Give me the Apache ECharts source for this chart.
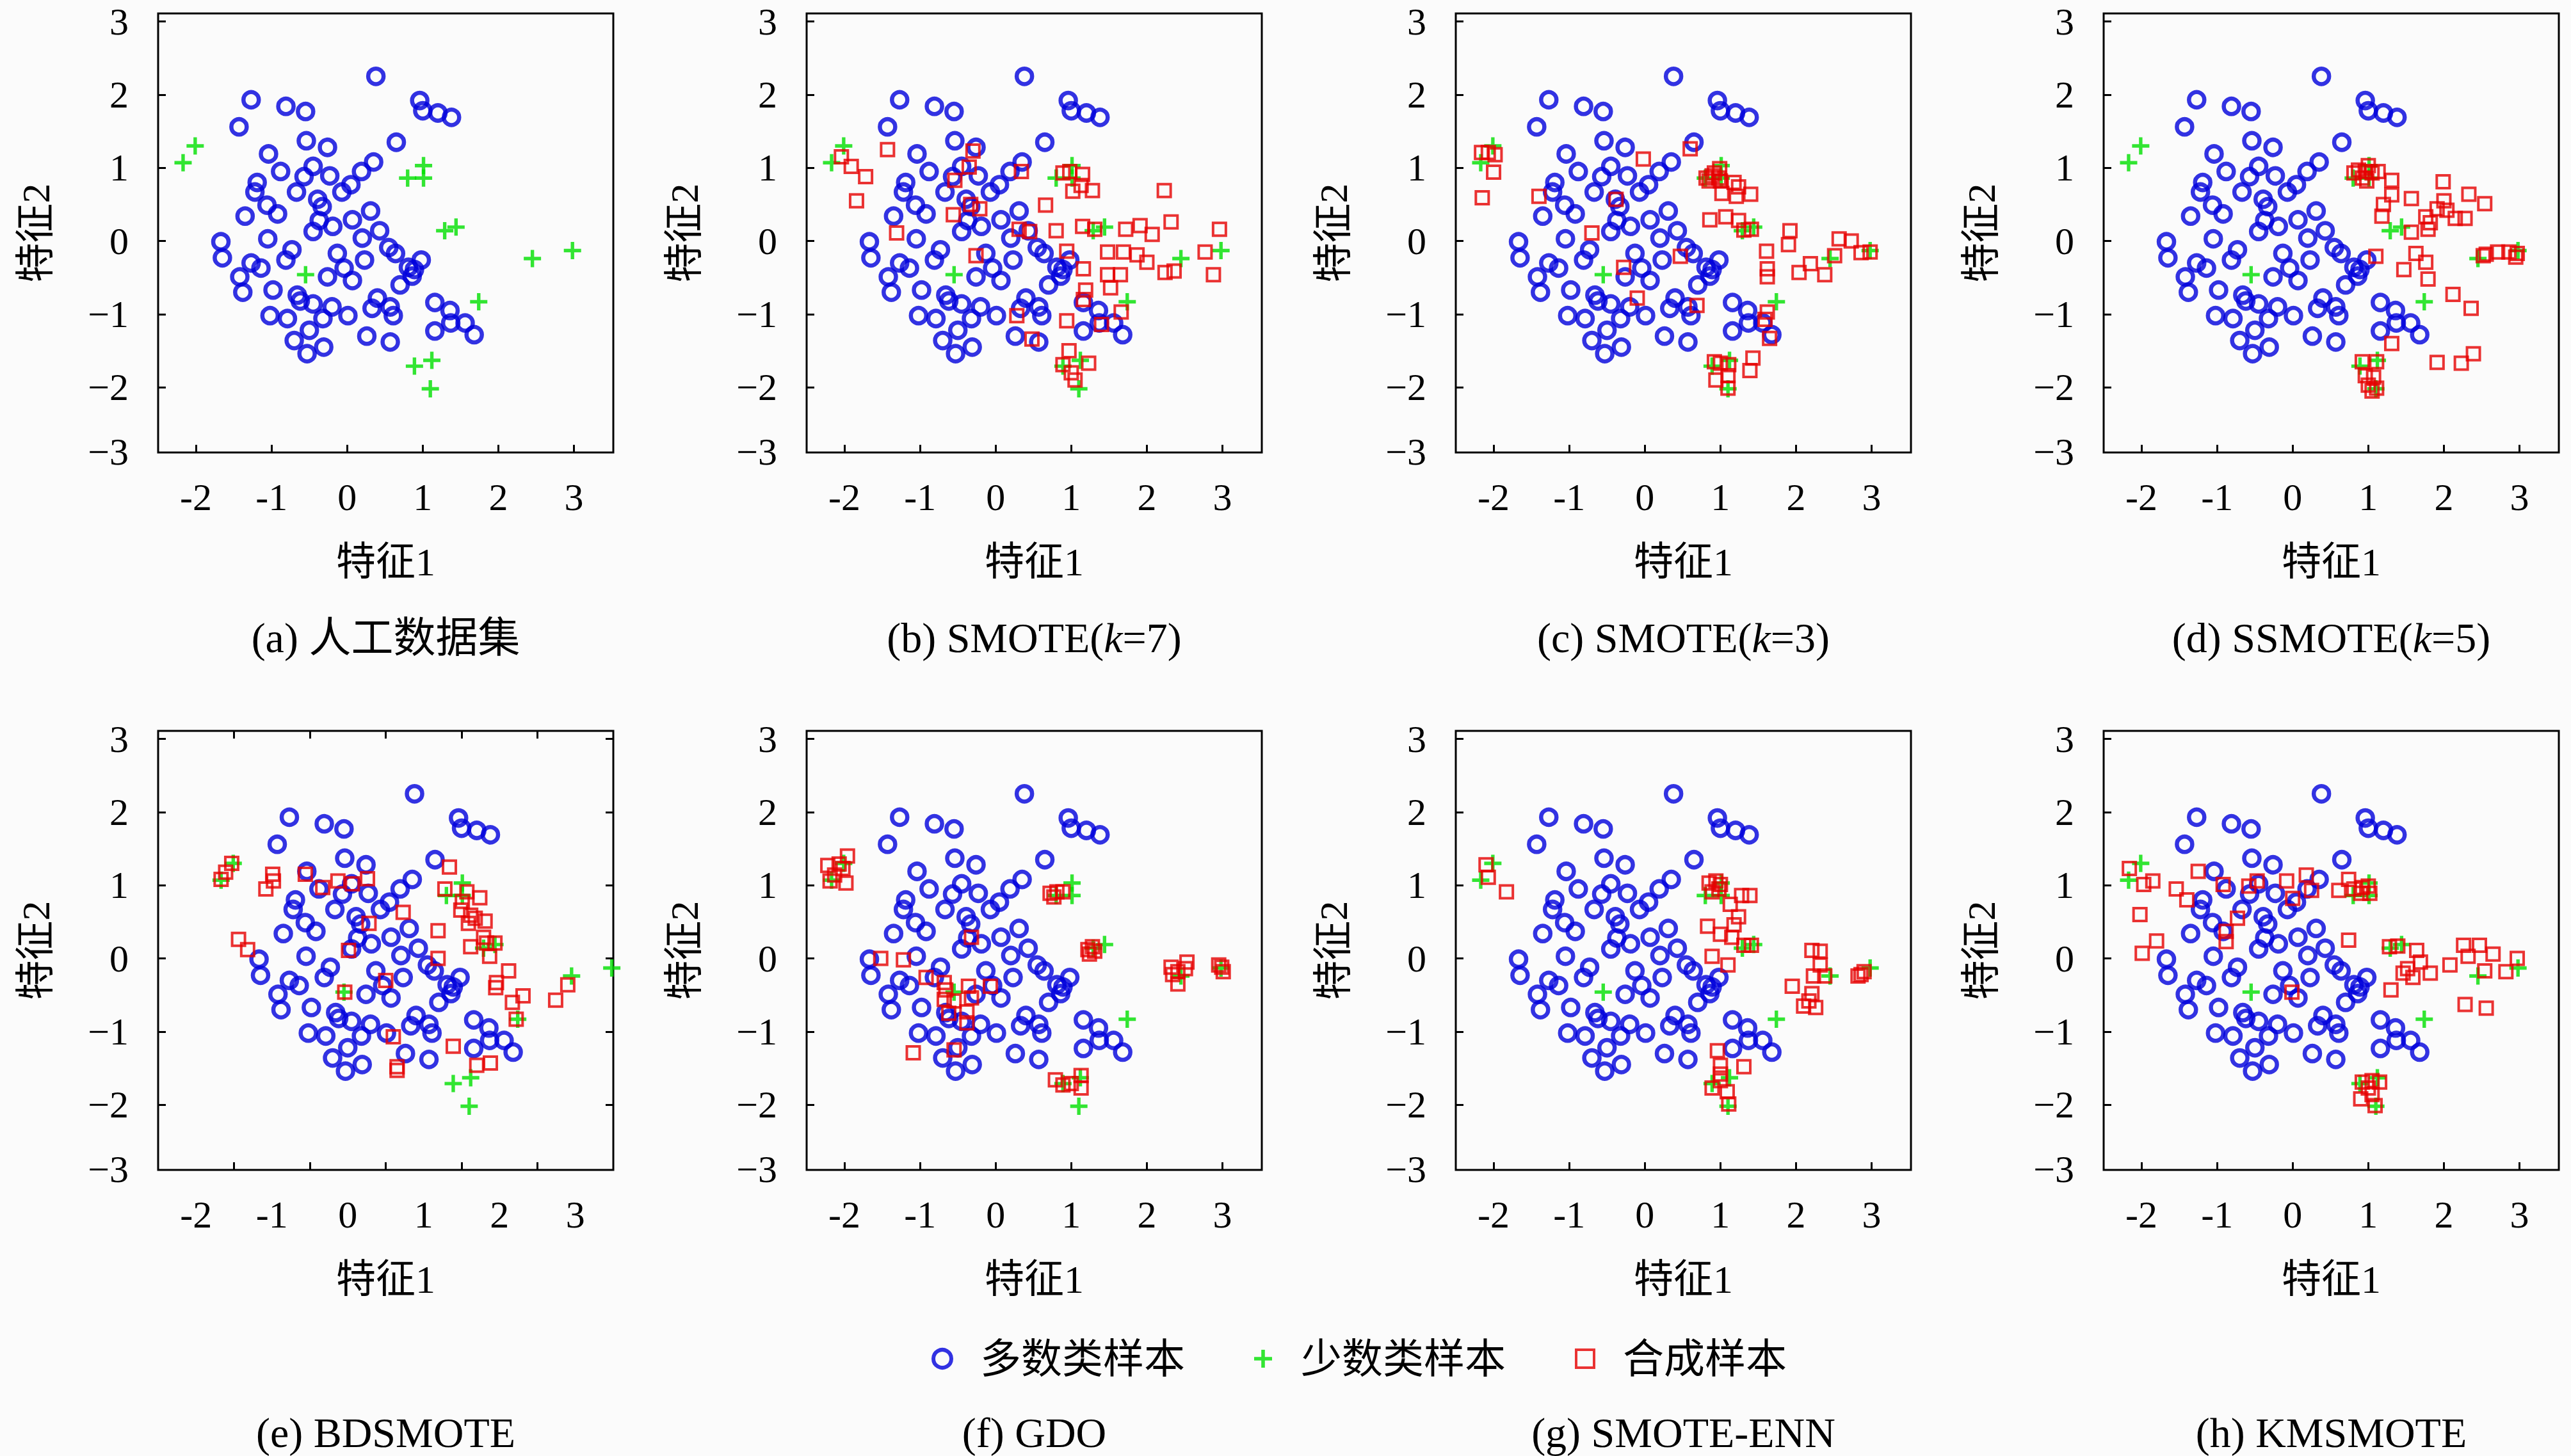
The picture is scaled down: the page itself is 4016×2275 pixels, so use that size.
<!DOCTYPE html>
<html>
<head>
<meta charset="utf-8">
<script src="https://cdn.jsdelivr.net/npm/echarts@6/dist/echarts.min.js"></script>
<style>
html,body{margin:0;padding:0;background:#fbfbfb;}
#chart{width:4016px;height:2275px;}
</style>
</head>
<body>
<div id="chart"></div>
<script>
// ---------------- data ----------------
const majority = [
[0.38,2.25],[-1.27,1.93],[-0.81,1.84],[-0.55,1.77],[-1.43,1.56],[0.96,1.92],[1.00,1.78],[1.20,1.75],[1.38,1.69],[-0.54,1.37],
[-0.26,1.28],[0.65,1.35],[-1.04,1.19],[-0.88,0.95],[-0.45,1.02],[-0.57,0.88],[-0.23,0.89],[0.19,0.95],[0.35,1.08],[-1.19,0.80],
[-1.22,0.67],[-0.67,0.67],[0.05,0.77],[-0.07,0.67],[-0.39,0.57],[-0.33,0.47],[-1.06,0.49],[-0.92,0.37],[-1.35,0.34],[0.31,0.41],
[0.07,0.29],[-0.37,0.28],[-0.19,0.20],[-0.45,0.13],[0.43,0.14],[0.20,0.04],[-1.05,0.03],[-1.67,-0.01],[-1.65,-0.23],[-0.73,-0.12],
[-0.81,-0.26],[-1.27,-0.30],[-1.14,-0.37],[-1.42,-0.49],[-1.38,-0.70],[-0.13,-0.17],[0.23,-0.26],[-0.04,-0.37],[-0.26,-0.49],[0.07,-0.54],
[0.55,-0.09],[0.64,-0.17],[0.98,-0.26],[0.81,-0.36],[0.89,-0.39],[0.86,-0.48],[0.70,-0.60],[-0.98,-0.67],[-0.66,-0.74],[-0.62,-0.82],
[-0.45,-0.86],[-0.20,-0.90],[0.40,-0.78],[0.33,-0.92],[0.57,-0.90],[0.61,-1.02],[-1.02,-1.02],[-0.79,-1.06],[-0.32,-1.06],[0.01,-1.02],
[-0.50,-1.22],[-0.70,-1.36],[-0.53,-1.54],[-0.31,-1.45],[0.26,-1.30],[0.57,-1.38],[1.16,-0.84],[1.36,-0.95],[1.37,-1.12],[1.56,-1.12],
[1.68,-1.28],[1.16,-1.23]
];
const minority = [
[-2.01,1.30],[-2.17,1.07],[1.01,1.03],[0.80,0.86],[1.01,0.86],[1.29,0.14],[1.44,0.19],[2.45,-0.24],[2.98,-0.13],[1.74,-0.83],
[-0.55,-0.46],[0.89,-1.71],[1.12,-1.63],[1.10,-2.02]
];
const synthB = [
[-1.43,1.25],[-2.04,1.15],[-1.91,1.02],[-1.72,0.88],[-1.84,0.55],[-0.30,1.23],[-0.35,1.01],[-0.54,0.83],[0.34,0.95],[0.89,0.93],
[0.98,0.95],[1.15,0.91],[1.13,0.76],[1.02,0.68],[1.28,0.69],[2.23,0.69],[0.66,0.49],[-0.33,0.50],[-0.21,0.44],[-0.56,0.36],
[-1.31,0.11],[0.31,0.16],[0.45,0.13],[0.80,0.14],[1.15,0.20],[1.31,0.16],[1.72,0.16],[1.91,0.21],[2.07,0.09],[2.32,0.26],
[2.96,0.16],[-0.26,-0.20],[0.94,-0.14],[1.48,-0.15],[1.69,-0.15],[1.87,-0.19],[2.00,-0.29],[2.77,-0.15],[1.16,-0.38],[1.48,-0.46],
[1.65,-0.46],[2.24,-0.43],[2.36,-0.41],[2.88,-0.46],[1.19,-0.67],[1.52,-0.64],[1.16,-0.80],[1.66,-0.97],[0.28,-1.02],[0.94,-1.09],
[1.40,-1.14],[0.48,-1.34],[0.97,-1.50],[0.89,-1.69],[1.23,-1.67],[1.00,-1.80],[1.05,-1.90]
];
const synthC = [
[-2.16,1.21],[-2.07,1.21],[-1.98,1.18],[-2.00,0.94],[-2.15,0.59],[-1.40,0.61],[-0.02,1.12],[0.60,1.26],[-0.38,0.57],[-0.70,0.11],
[0.81,0.86],[0.89,0.89],[0.99,0.99],[1.00,0.82],[1.18,0.80],[1.24,0.74],[1.02,0.65],[1.21,0.61],[1.40,0.64],[0.86,0.29],
[1.07,0.33],[1.24,0.28],[1.31,0.15],[1.41,0.16],[1.92,0.14],[1.90,-0.05],[1.61,-0.14],[2.57,0.03],[2.73,0.00],[2.51,-0.20],
[2.86,-0.16],[2.98,-0.15],[2.19,-0.31],[2.04,-0.43],[2.38,-0.46],[1.62,-0.38],[1.62,-0.49],[0.47,-0.21],[-0.28,-0.36],[-0.10,-0.78],
[0.69,-0.88],[1.62,-0.97],[1.59,-1.07],[1.65,-1.33],[0.92,-1.65],[1.00,-1.67],[1.11,-1.69],[0.94,-1.90],[1.10,-1.84],[1.10,-2.01],
[1.43,-1.60],[1.39,-1.77],[0.92,0.93],[0.98,0.86],[0.85,0.82]
];
const synthD = [
[0.87,0.97],[0.96,0.95],[1.05,0.93],[0.92,0.86],[0.98,0.82],[0.81,0.93],[1.00,1.03],[1.13,0.95],[1.31,0.83],[1.31,0.63],
[1.20,0.50],[1.18,0.34],[1.57,0.58],[1.99,0.81],[2.00,0.55],[2.33,0.64],[2.54,0.51],[1.91,0.44],[2.04,0.42],[2.15,0.31],
[2.28,0.31],[1.76,0.33],[1.82,0.25],[1.79,0.16],[1.57,0.12],[1.10,-0.21],[1.63,-0.17],[1.76,-0.29],[1.47,-0.39],[1.79,-0.52],
[2.52,-0.20],[2.56,-0.18],[2.71,-0.15],[2.86,-0.15],[2.97,-0.17],[2.95,-0.22],[2.12,-0.73],[2.36,-0.92],[1.31,-1.40],[2.39,-1.54],
[1.91,-1.66],[2.23,-1.67],[0.92,-1.65],[1.11,-1.65],[0.96,-1.84],[1.07,-1.86],[1.00,-1.97],[1.11,-2.01],[1.05,-2.05]
];
const synthE = [
[-2.03,1.30],[-2.11,1.18],[-2.17,1.08],[-1.49,1.15],[-1.48,1.06],[-1.58,0.95],[-1.06,1.15],[-0.83,0.97],[-0.63,1.06],[-0.44,1.02],
[-0.24,1.09],[0.84,1.25],[0.78,0.95],[1.07,0.91],[1.24,0.83],[1.01,0.78],[0.99,0.66],[1.12,0.59],[1.18,0.55],[1.31,0.51],
[1.09,0.48],[0.23,0.63],[-0.22,0.48],[0.69,0.38],[1.29,0.29],[1.33,0.21],[1.44,0.21],[1.12,0.16],[1.37,0.03],[-1.94,0.26],
[-1.82,0.12],[-0.49,0.11],[0.69,0.00],[0.00,-0.30],[-0.54,-0.46],[1.62,-0.17],[1.46,-0.33],[1.45,-0.40],[1.67,-0.60],[1.81,-0.51],
[2.24,-0.57],[2.40,-0.36],[1.72,-0.83],[0.10,-1.07],[0.89,-1.20],[1.20,-1.46],[1.38,-1.43],[0.15,-1.48],[0.15,-1.53]
];
const synthF = [
[-2.22,1.27],[-1.96,1.40],[-2.02,1.23],[-2.19,1.06],[-1.98,1.03],[-2.13,1.14],[-2.07,1.29],[0.72,0.89],[0.81,0.91],[0.89,0.91],
[0.77,0.84],[1.22,0.12],[1.31,0.10],[1.28,0.16],[1.24,0.06],[2.32,-0.12],[2.41,-0.18],[2.51,-0.14],[2.41,-0.35],[2.53,-0.05],
[2.34,-0.22],[2.99,-0.12],[2.95,-0.09],[3.01,-0.18],[0.79,-1.66],[0.89,-1.73],[1.13,-1.60],[1.13,-1.77],[1.00,-1.71],[-0.32,0.29],
[-1.52,0.00],[-1.22,-0.02],[-0.92,-0.26],[-0.68,-0.33],[-0.66,-0.43],[-0.36,-0.38],[-0.07,-0.38],[-0.68,-0.56],[-0.55,-0.58],[-0.32,-0.54],
[-0.62,-0.75],[-0.38,-0.73],[-0.38,-0.88],[-1.09,-1.29],[-0.55,-1.25]
];
const synthG = [
[-2.10,1.28],[-2.07,1.11],[-1.83,0.91],[0.85,1.03],[0.94,1.06],[0.98,0.95],[0.89,0.91],[1.00,1.01],[1.28,0.86],[1.39,0.86],
[1.13,0.74],[1.24,0.57],[1.18,0.46],[0.83,0.44],[1.00,0.33],[1.15,0.29],[1.31,0.18],[1.41,0.18],[0.89,0.03],[1.10,-0.09],
[2.21,0.11],[2.32,0.10],[2.32,-0.09],[2.23,-0.24],[2.38,-0.24],[1.95,-0.38],[2.21,-0.48],[2.10,-0.65],[2.26,-0.67],[2.17,-0.58],
[2.86,-0.22],[2.90,-0.18],[2.82,-0.24],[0.96,-1.26],[1.00,-1.46],[1.31,-1.48],[0.89,-1.77],[1.00,-1.67],[1.09,-1.82],[1.11,-1.99],
[1.00,-1.58]
];
const synthH = [
[-2.16,1.23],[-1.97,1.01],[-1.85,1.06],[-2.02,0.60],[-1.99,0.07],[-1.80,0.24],[-1.54,0.95],[-1.40,0.80],[-1.25,1.19],[-0.92,1.01],
[-0.73,0.55],[-0.88,0.37],[-0.88,0.23],[-0.58,0.99],[-0.47,1.06],[-0.08,1.06],[0.00,0.82],[0.18,1.14],[0.25,0.93],[-0.01,-0.46],
[0.61,0.93],[0.74,1.08],[0.74,0.25],[0.81,0.95],[0.92,0.97],[1.00,0.99],[0.90,0.89],[1.02,0.89],[1.28,0.16],[1.39,0.17],
[1.64,0.11],[1.69,-0.05],[1.52,-0.14],[1.59,-0.26],[1.82,-0.20],[1.46,-0.20],[1.30,-0.43],[2.08,-0.09],[2.26,0.18],[2.47,0.18],
[2.32,0.03],[2.65,0.06],[2.54,-0.17],[2.82,-0.18],[2.97,0.00],[2.28,-0.63],[2.56,-0.68],[0.92,-1.69],[1.05,-1.67],[1.15,-1.69],
[0.90,-1.92],[1.05,-1.86],[1.09,-2.01],[1.00,-1.77]
];
const panelTitles = ['(a) 人工数据集','(b) SMOTE({i|k}=7)','(c) SMOTE({i|k}=3)','(d) SSMOTE({i|k}=5)',
                     '(e) BDSMOTE','(f) GDO','(g) SMOTE-ENN','(h) KMSMOTE'];
const synthSets = [null, synthB, synthC, synthD, synthE, synthF, synthG, synthH];
const seriesNames = ['多数类样本','少数类样本','合成样本'];
const xTicks = [-2,-1,0,1,2,3];
const yTicks = [-2,-1,0,1,2,3];
const xName = '特征1', yName = '特征2';

// ---------------- style / layout ----------------
const FONT = "'Liberation Serif','Noto Sans CJK SC',serif";
const BLUE = '#0000dc', GREEN = '#00e000', RED = '#e60000';
const PLUS = 'path://M40,0H60V40H100V60H60V100H40V60H0V40H40Z';
const lefts = [247,1260,2274,3286], tops = [21,1142], W = 711, H = 686;
const YMIN = -2.89, YMAX = 3.11;

const fmtX = v => (v < 0 ? '-' + Math.abs(v) : String(v));
const fmtY = v => (v < -2.5 ? '\u22123' : (v < 0 ? '\u2212' + Math.abs(v) : String(v)));

const tickStyle = {show:true, inside:true, length:12, lineStyle:{color:'#000', width:3}};
const labelStyle = {color:'#000', fontFamily:FONT, fontSize:60};
const nameStyle = {color:'#000', fontFamily:FONT, fontSize:62};
const noLine = {show:false, onZero:false};

const grids = [], xAxes = [], yAxes = [], series = [], graphics = [];

for (let i = 0; i < 8; i++) {
  const col = i % 4, row = Math.floor(i / 4);
  const isE = (i === 4);
  grids.push({left:lefts[col], top:tops[row], width:W, height:H, show:true,
              borderColor:'#000', borderWidth:3, backgroundColor:'transparent'});
  const xi = xAxes.length, yi = yAxes.length;
  xAxes.push({
    type:'value', gridIndex:i, position:'bottom',
    min: isE ? -3 : -2.5, max: isE ? 3 : 3.52,
    axisLine:noLine, splitLine:{show:false},
    axisTick: Object.assign({}, tickStyle, {customValues: isE ? xTicks.slice(0,5) : xTicks}),
    axisLabel: Object.assign({}, labelStyle, {
      margin:40,
      customValues: isE ? xTicks.map(v => v - 0.5) : xTicks,
      formatter: isE ? (v => fmtX(Math.round((v + 0.5) * 10) / 10)) : fmtX
    }),
    name:xName, nameLocation:'middle', nameGap:140, nameTextStyle:nameStyle
  });
  yAxes.push({
    type:'value', gridIndex:i, position:'left', min:YMIN, max:YMAX,
    axisLine:noLine, splitLine:{show:false},
    axisTick: Object.assign({}, tickStyle, {customValues: yTicks}),
    axisLabel: Object.assign({}, labelStyle, {margin:46, customValues:[YMIN + 0.01].concat(yTicks), formatter:fmtY}),
    name:yName, nameLocation:'middle', nameGap:160, nameTextStyle:nameStyle
  });
  if (isE) {
    xAxes.push({type:'value', gridIndex:i, position:'top', min:-3, max:3,
      axisLine:noLine, splitLine:{show:false}, axisLabel:{show:false},
      axisTick: Object.assign({}, tickStyle, {customValues: xTicks.slice(0,5)})});
    yAxes.push({type:'value', gridIndex:i, position:'right', min:YMIN, max:YMAX,
      axisLine:noLine, splitLine:{show:false}, axisLabel:{show:false},
      axisTick: Object.assign({}, tickStyle, {customValues: yTicks})});
  }
  series.push({type:'scatter', name:seriesNames[0], xAxisIndex:xi, yAxisIndex:yi, data:majority,
    symbol:'circle', symbolSize:24, silent:true,
    itemStyle:{color:'rgba(0,0,0,0)', borderColor:BLUE, borderWidth:6.5}});
  series.push({type:'scatter', name:seriesNames[1], xAxisIndex:xi, yAxisIndex:yi, data:minority,
    symbol:PLUS, symbolSize:27, silent:true, itemStyle:{color:GREEN}});
  if (synthSets[i]) {
    series.push({type:'scatter', name:seriesNames[2], xAxisIndex:xi, yAxisIndex:yi, data:synthSets[i],
      symbol:'rect', symbolSize:20, silent:true,
      itemStyle:{color:'rgba(0,0,0,0)', borderColor:RED, borderWidth:4}});
  }
  graphics.push({type:'text', x: lefts[col] + W / 2, y: row === 0 ? 996 : 2238,
    style:{text:panelTitles[i], fill:'#000', fontFamily:FONT, fontSize:66,
           align:'center', verticalAlign:'middle', textAlign:'center', textVerticalAlign:'middle',
           rich:{i:{fontStyle:'italic', fontFamily:FONT, fontSize:66, fill:'#000'}}}});
}

const option = {
  backgroundColor:'#fbfbfb',
  animation:false,
  grid:grids, xAxis:xAxes, yAxis:yAxes, series:series, graphic:graphics,
  legend:{
    left:1450, top:2086, orient:'horizontal', itemWidth:28, itemHeight:28, itemGap:108,
    selectedMode:false,
    textStyle:{color:'#000', fontFamily:FONT, fontSize:64, padding:[0,0,0,40]},
    data:[
      {name:seriesNames[0], icon:'circle', itemStyle:{color:'rgba(0,0,0,0)', borderColor:BLUE, borderWidth:6}},
      {name:seriesNames[1], icon:PLUS, itemStyle:{color:GREEN, borderWidth:0}},
      {name:seriesNames[2], icon:'rect', itemStyle:{color:'rgba(0,0,0,0)', borderColor:RED, borderWidth:4}}
    ]
  }
};

const chart = echarts.init(document.getElementById('chart'), null, {renderer:'svg', width:4016, height:2275});
chart.setOption(option);
</script>
</body>
</html>
